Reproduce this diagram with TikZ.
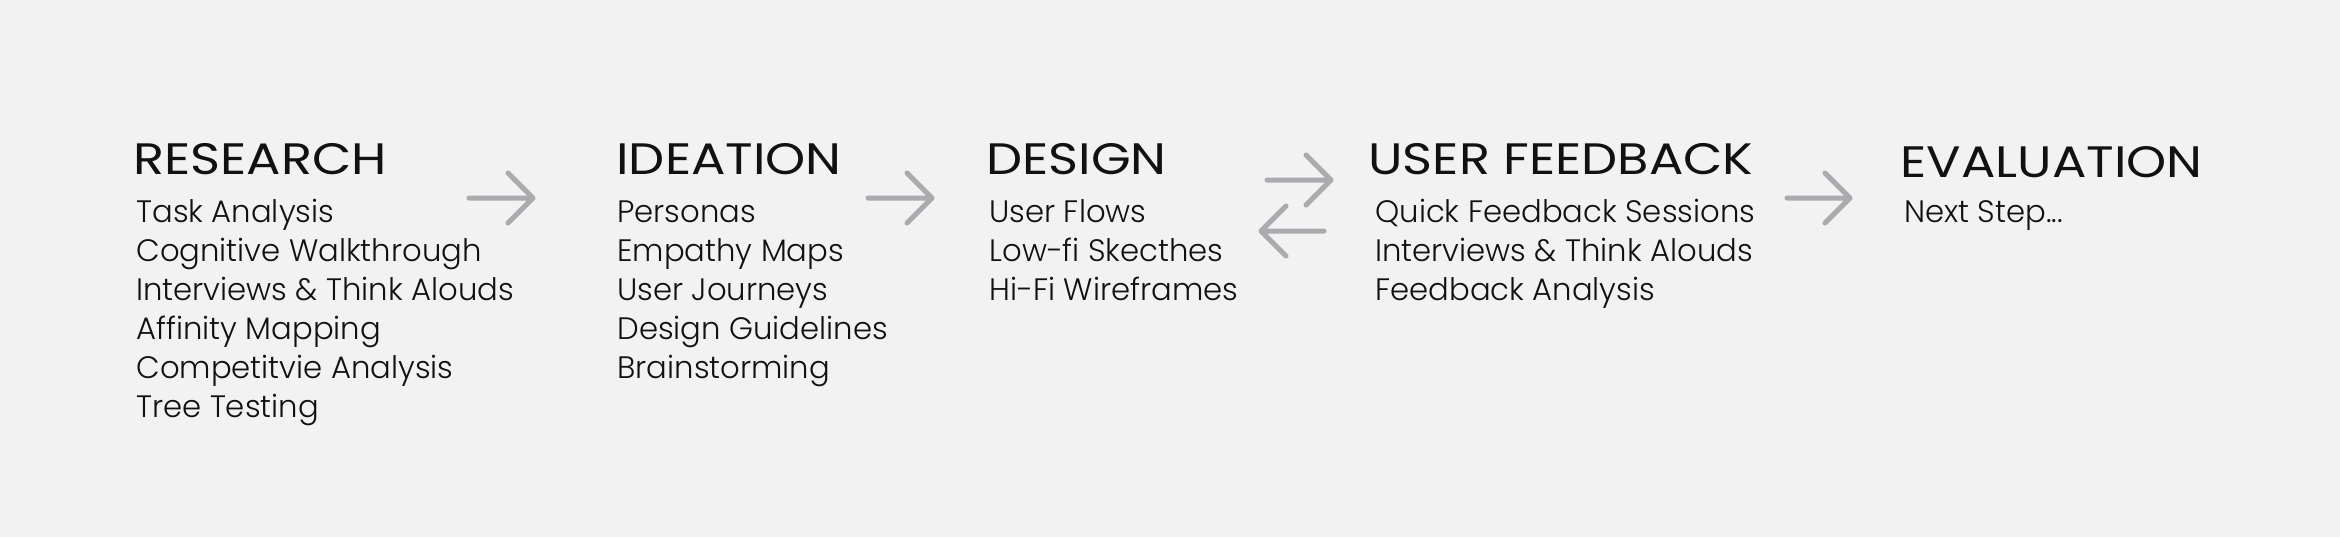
\documentclass[tikz,border=0pt]{standalone}
\usepackage{fontspec}
\setmainfont{Poppins}
\newfontfamily\titlefont{Poppins}[FakeStretch=1.16]
\newfontfamily\itemfont{Poppins Light}[FakeStretch=0.99]
\definecolor{bg}{HTML}{F2F2F2}
\definecolor{arrowgray}{HTML}{AAABAF}
\definecolor{ink}{HTML}{111111}
\begin{document}
\begin{tikzpicture}[x=0.5pt,y=-0.5pt,
  title/.style={inner sep=0pt,anchor=base west,font=\titlefont\fontsize{22}{26}\selectfont,text=ink},
  item/.style={inner sep=0pt,anchor=base west,font=\itemfont\fontsize{15.5}{19.5}\selectfont,text=ink},
  chev/.style={draw=arrowgray,line width=2.5pt,line cap=round,line join=round}]
\fill[bg] (0,0) rectangle (2340,537);
\useasboundingbox (0,0) rectangle (2340,537);
% column 1
\node[title] (t1) at (133,174) {RESEARCH};
\node[item] (r1) at (136,222) {Task Analysis};
\node[item] (r2) at (136,261) {Cognitive Walkthrough};
\node[item] (r3) at (136,300) {Interviews \& Think Alouds};
\node[item] (r4) at (136,339) {Affinity Mapping};
\node[item] (r5) at (136,378) {Competitvie Analysis};
\node[item] (r6) at (136,417) {Tree Testing};
% column 2
\node[title] (t2) at (616,174) {IDEATION};
\node[item] (i1) at (617,222) {Personas};
\node[item] (i2) at (617,261) {Empathy Maps};
\node[item] (i3) at (617,300) {User Journeys};
\node[item] (i4) at (617,339) {Design Guidelines};
\node[item] (i5) at (617,378) {Brainstorming};
% column 3
\node[title] (t3) at (986,174) {DESIGN};
\node[item] (d1) at (989,222) {User Flows};
\node[item] (d2) at (989,261) {Low-fi Skecthes};
\node[item] (d3) at (989,300) {Hi-Fi Wireframes};
% column 4
\node[title] (t4) at (1368,174) {USER FEEDBACK};
\node[item] (u1) at (1375,222) {Quick Feedback Sessions};
\node[item] (u2) at (1375,261) {Interviews \& Think Alouds};
\node[item] (u3) at (1375,300) {Feedback Analysis};
% column 5
\node[title] (t5) at (1900,177) {EVALUATION};
\node[item] (e1) at (1904,222) {Next Step...};
% arrows
\coordinate (a1s) at (469,198); \coordinate (a1t) at (533,198);
\draw[chev] (a1s) -- (a1t) (a1t) ++(-25,-25) -- (a1t) -- ++(-25,25);
\coordinate (a2s) at (868,198); \coordinate (a2t) at (932,198);
\draw[chev] (a2s) -- (a2t) (a2t) ++(-25,-25) -- (a2t) -- ++(-25,25);
\coordinate (a3s) at (1787,198); \coordinate (a3t) at (1850,198);
\draw[chev] (a3s) -- (a3t) (a3t) ++(-25,-25) -- (a3t) -- ++(-25,25);
\coordinate (a4s) at (1267,180); \coordinate (a4t) at (1331,180);
\draw[chev] (a4s) -- (a4t) (a4t) ++(-25,-25) -- (a4t) -- ++(-25,25);
\coordinate (a5s) at (1324,231); \coordinate (a5t) at (1261,231);
\draw[chev] (a5s) -- (a5t) (a5t) ++(25,-25) -- (a5t) -- ++(25,25);
\end{tikzpicture}
\end{document}
